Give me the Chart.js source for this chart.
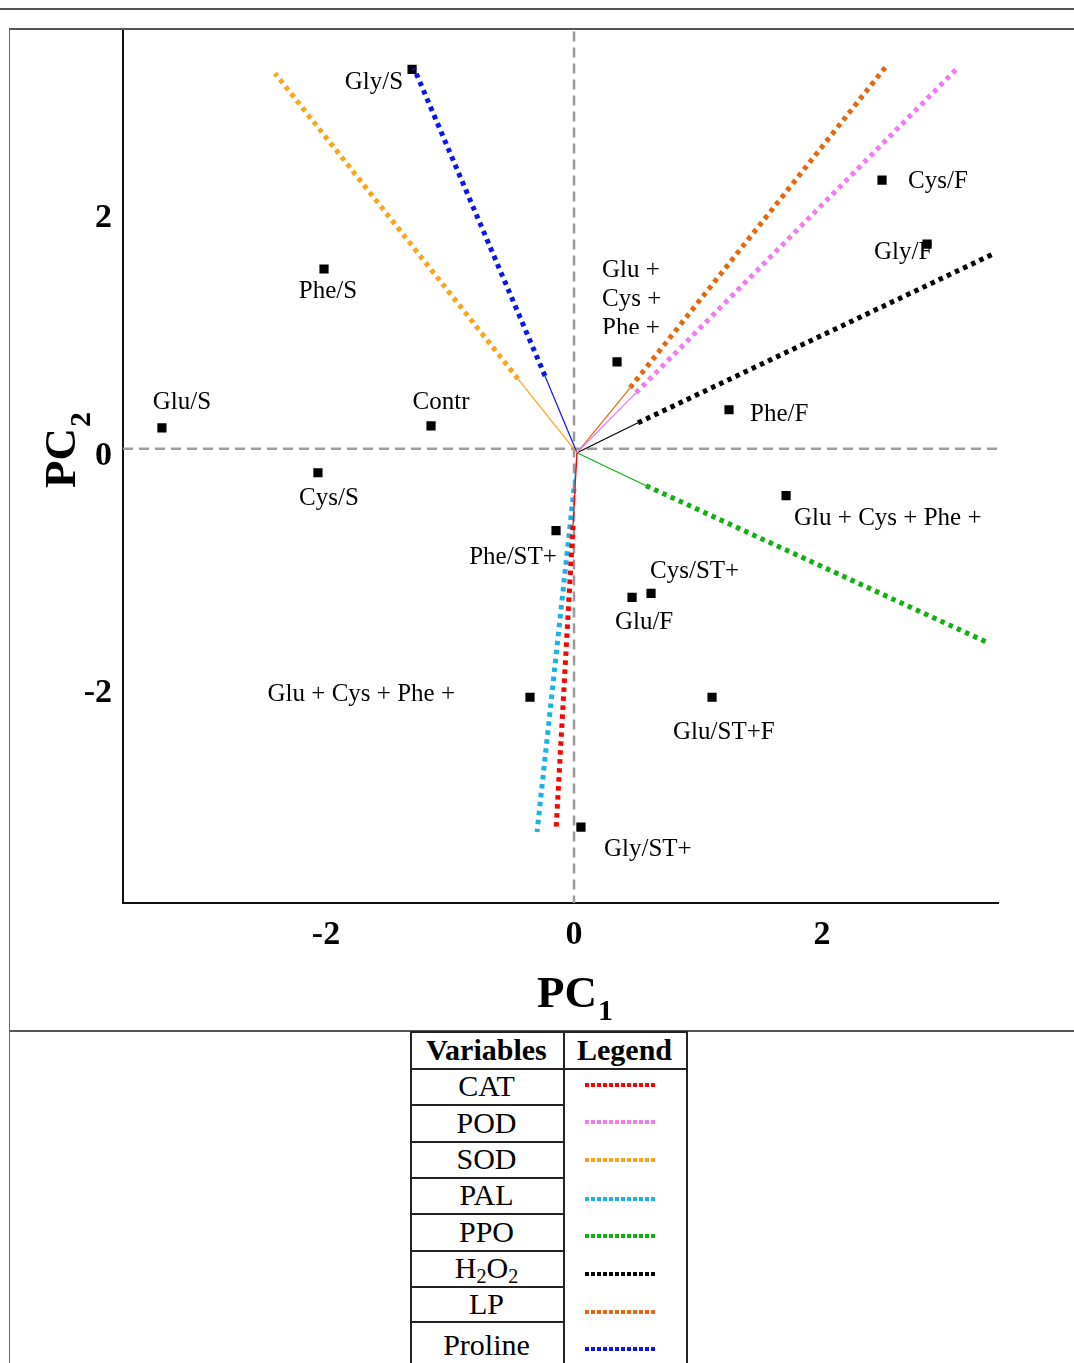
<!DOCTYPE html>
<html><head><meta charset="utf-8">
<script src="https://cdn.jsdelivr.net/npm/chart.js@4"></script>
<style>
html,body{margin:0;padding:0;background:#fff;}
body{width:1074px;height:1363px;position:relative;overflow:hidden;font-family:"Liberation Serif","Times New Roman",serif;color:#000;}
#topline{position:absolute;left:0;top:8px;width:1074px;height:0;border-top:2px solid #555;}
#frame{position:absolute;left:9px;top:28px;width:1100px;height:1000px;border-top:2px solid #555;border-left:1.5px solid #666;border-bottom:2px solid #555;}
#frame2{position:absolute;left:9px;top:1030px;height:340px;border-left:1.5px solid #666;}
#c{position:absolute;left:0;top:0;}
.cell{position:absolute;text-align:center;font-size:30px;line-height:1;white-space:nowrap;}
.cell sub{font-size:20px;vertical-align:baseline;position:relative;top:0.25em;}
.hline{position:absolute;height:0;border-top:2px solid #222;}
.vline{position:absolute;width:0;border-left:2px solid #222;}
.sample{position:absolute;height:4px;width:70px;}
</style>
</head><body>
<div id="topline"></div>
<div id="frame"></div>
<div id="frame2"></div>
<canvas id="c" width="1074" height="1030"></canvas>
<div id="table"></div>
<script>
// ---- data ----
const xTicks = [-2, 0, 2];
const yTicks = [-2, 0, 2];
const xRange = [-3.637, 3.419];
const yRange = [-3.824, 3.513];

const sampleNames = ['Gly/S','Phe/S','Glu/S','Contr','Cys/S','Phe/ST+','Glu + Cys + Phe +','Gly/ST+','Glu/F','Cys/ST+','Glu/ST+F','Glu + Cys + Phe +','Phe/F','Glu +\nCys +\nPhe +','Cys/F','Gly/F'];
const sampleX = [-1.306,-2.016,-3.323,-1.153,-2.065,-0.145,-0.355,0.056,0.468,0.621,1.113,1.710,1.250,0.347,2.484,2.847];
const sampleY = [3.193,1.513,0.176,0.193,-0.202,-0.689,-2.092,-3.185,-1.252,-1.218,-2.092,-0.395,0.328,0.731,2.261,1.723];

const varNames = ['CAT','POD','SOD','PAL','PPO','H2O2','LP','Proline'];
const vecOrigin = [0.024, -0.034];
const varInnerX = [-0.008, 0.500, -0.452, 0.000, 0.581, 0.516, 0.452, -0.234];
const varInnerY = [-0.647, 0.471, 0.588, -0.336, -0.311, 0.218, 0.513, 0.613];
const varEndX = [-0.145, 3.081, -2.411, -0.298, 3.331, 3.379, 2.516, -1.290];
const varEndY = [-3.210, 3.193, 3.160, -3.227, -1.630, 1.639, 3.218, 3.202];

// ---- styles ----
const varColors = ['#FF0000','#F07DF0','#FFA31A','#1AB2E6','#10B010','#000000','#E5680E','#0A14F5'];
const labelPlace = [
  {dx:-9, dy:13, align:'right'},
  {dx:4, dy:22, align:'center'},
  {dx:20, dy:-25, align:'center'},
  {dx:10, dy:-23, align:'center'},
  {dx:11, dy:26, align:'center'},
  {dx:-43, dy:27, align:'center'},
  {dx:-75, dy:-3, align:'right'},
  {dx:23, dy:22, align:'left'},
  {dx:12, dy:25, align:'center'},
  {dx:-1, dy:-22, align:'left'},
  {dx:-39, dy:35, align:'left'},
  {dx:8, dy:23, align:'left'},
  {dx:21, dy:5, align:'left'},
  {dx:-15, dy:-91, align:'left', lh:29, clip:-28},
  {dx:26, dy:1, align:'left'},
  {dx:-53, dy:8, align:'left'}
];
const FONT = '"Liberation Serif", "Times New Roman", serif';

const datasets = [];
varNames.forEach((n, i) => {
  datasets.push({label: n + ' inner', data: [{x: vecOrigin[0], y: vecOrigin[1]}, {x: varInnerX[i], y: varInnerY[i]}],
    showLine: true, borderColor: varColors[i], borderWidth: 1.2, pointRadius: 0, fill: false});
  datasets.push({label: n, data: [{x: varInnerX[i], y: varInnerY[i]}, {x: varEndX[i], y: varEndY[i]}],
    showLine: true, borderColor: varColors[i], borderWidth: 5, borderDash: [4.5, 4.5], borderCapStyle: 'butt', pointRadius: 0, fill: false});
});
datasets.push({label: 'samples', data: sampleX.map((x, i) => ({x: x, y: sampleY[i]})),
  showLine: false, pointStyle: 'rect', pointRadius: 6.5, backgroundColor: '#000', borderColor: '#000', borderWidth: 0});

const overlay = {
  id: 'overlay',
  beforeDatasetsDraw(chart) {
    const {ctx, chartArea: a, scales: {x, y}} = chart;
    ctx.save();
    ctx.strokeStyle = '#9a9a9a';
    ctx.lineWidth = 2.5;
    ctx.setLineDash([10, 6]);
    const x0 = x.getPixelForValue(0), y0 = y.getPixelForValue(0);
    ctx.beginPath(); ctx.moveTo(x0, a.top); ctx.lineTo(x0, a.bottom); ctx.stroke();
    ctx.beginPath(); ctx.moveTo(a.left, y0); ctx.lineTo(a.right, y0); ctx.stroke();
    ctx.restore();
  },
  afterDatasetsDraw(chart) {
    const {ctx} = chart;
    const meta = chart.getDatasetMeta(chart.data.datasets.length - 1);
    ctx.save();
    ctx.fillStyle = '#000';
    ctx.font = '25px ' + FONT;
    ctx.textBaseline = 'middle';
    meta.data.forEach((pt, i) => {
      const p = labelPlace[i];
      const lines = sampleNames[i].split('\n');
      ctx.save();
      if (p.clip !== undefined) {
        ctx.beginPath(); ctx.rect(0, 0, 1074, pt.y + p.clip); ctx.clip();
      }
      ctx.textAlign = p.align;
      lines.forEach((ln, k) => ctx.fillText(ln, pt.x + p.dx, pt.y + p.dy + k * (p.lh || 0)));
      ctx.restore();
    });
    ctx.restore();
  },
  afterDraw(chart) {
    const {ctx} = chart;
    ctx.save();
    ctx.fillStyle = '#000';
    ctx.textAlign = 'left';
    ctx.textBaseline = 'alphabetic';
    ctx.font = 'bold 45px ' + FONT;
    const w = ctx.measureText('PC').width;
    ctx.fillText('PC', 537, 1007);
    ctx.font = 'bold 30px ' + FONT;
    ctx.fillText('1', 537 + w + 1, 1020);
    ctx.translate(75, 488);
    ctx.rotate(-Math.PI / 2);
    ctx.font = 'bold 45px ' + FONT;
    ctx.fillText('PC', 0, 0);
    ctx.font = 'bold 30px ' + FONT;
    ctx.fillText('2', w + 1, 15);
    ctx.restore();
  }
};

new Chart(document.getElementById('c'), {
  type: 'scatter',
  data: {datasets},
  options: {
    responsive: false,
    animation: false,
    events: [],
    layout: {padding: {left: 0, top: 30, right: 76, bottom: 0}},
    plugins: {legend: {display: false}, tooltip: {enabled: false}, title: {display: false}},
    scales: {
      x: {
        type: 'linear', min: xRange[0], max: xRange[1],
        afterFit: s => { s.height = 127; },
        afterBuildTicks: s => { s.ticks = xTicks.map(v => ({value: v})); },
        grid: {display: false, drawTicks: false},
        border: {display: true, color: '#111', width: 2},
        ticks: {color: '#000', padding: 12, font: {family: FONT, size: 34, weight: 'bold'}, maxRotation: 0}
      },
      y: {
        type: 'linear', min: yRange[0], max: yRange[1],
        afterFit: s => { s.width = 123; },
        afterBuildTicks: s => { s.ticks = yTicks.map(v => ({value: v})); },
        grid: {display: false, drawTicks: false},
        border: {display: true, color: '#111', width: 2},
        ticks: {color: '#000', padding: 11, labelOffset: 7, font: {family: FONT, size: 34, weight: 'bold'}}
      }
    }
  },
  plugins: [overlay]
});

// ---- legend table ----
const tbl = document.getElementById('table');
const L = 410, C1 = 563, R = 686, TOP = 1031, HEAD = 1068;
const rowLines = [1068, 1104, 1141, 1177, 1213, 1250, 1286, 1321, 1372];
const sampleYs = [1085, 1122, 1160, 1199, 1236, 1274, 1312, 1349];
function add(cls, style, html) {
  const d = document.createElement('div'); d.className = cls; Object.assign(d.style, style);
  if (html !== undefined) d.innerHTML = html; tbl.appendChild(d); return d;
}
add('hline', {left: L + 'px', top: TOP + 'px', width: (R - L + 2) + 'px'});
add('hline', {left: L + 'px', top: HEAD + 'px', width: (R - L + 2) + 'px'});
add('vline', {left: L + 'px', top: TOP + 'px', height: '340px'});
add('vline', {left: C1 + 'px', top: TOP + 'px', height: '340px'});
add('vline', {left: R + 'px', top: TOP + 'px', height: '340px'});
add('cell', {left: L + 'px', width: (C1 - L) + 'px', top: (TOP + 4) + 'px', fontWeight: 'bold'}, 'Variables');
add('cell', {left: C1 + 'px', width: (R - C1) + 'px', top: (TOP + 4) + 'px', fontWeight: 'bold'}, 'Legend');
varNames.forEach((n, i) => {
  const t = rowLines[i], b = rowLines[i + 1];
  if (i > 0) add('hline', {left: L + 'px', top: t + 'px', width: (C1 - L) + 'px'});
  const mid = i === varNames.length - 1 ? 1345 : (t + b) / 2;
  add('cell', {left: L + 'px', width: (C1 - L) + 'px', top: (mid - 15) + 'px'}, n.replace(/(\d)/g, '<sub>$1</sub>'));
  add('sample', {left: '585px', top: (sampleYs[i] - 2) + 'px',
    background: 'repeating-linear-gradient(90deg,' + varColors[i] + ' 0 4px, transparent 4px 6px)'});
});
</script>
</body></html>
